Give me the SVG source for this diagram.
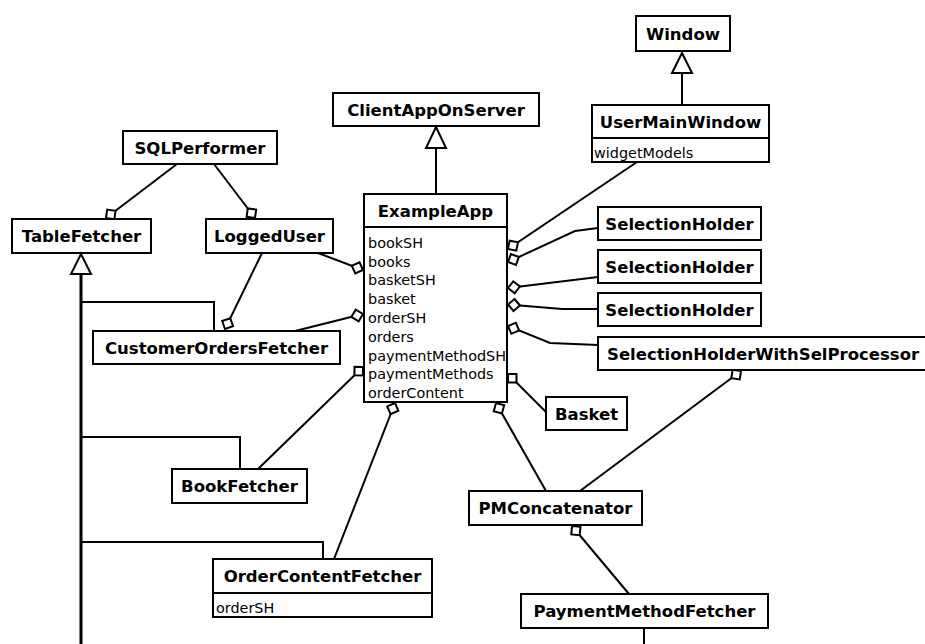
<svg xmlns="http://www.w3.org/2000/svg" width="925" height="644" viewBox="0 0 925 644">
  <style>
    .box { fill: #ffffff; stroke: #000000; stroke-width: 2; }
    .sep { stroke: #000000; stroke-width: 2; }
    .name { font-family: "DejaVu Sans", "Liberation Sans", sans-serif; font-weight: bold; font-size: 16.5px; fill: #000000; text-anchor: middle; }
    .attr { font-family: "DejaVu Sans", "Liberation Sans", sans-serif; font-size: 14.4px; fill: #000000; }
    .link { fill: none; stroke: #000000; stroke-width: 2; }
    .agg { marker-end: url(#agg); }
    .gen { fill: #ffffff; stroke: #000000; stroke-width: 2; }
    .trunk { fill: none; stroke: #000000; stroke-width: 3; }
  </style>
  <defs>
    <!-- aggregation diamond, tip placed at the end of the connector -->
    <marker id="agg" markerUnits="userSpaceOnUse" markerWidth="14" markerHeight="14" refX="13" refY="7" orient="auto" overflow="visible">
      <path d="M13,7 L7,1 L1,7 L7,13 Z" fill="#ffffff" stroke="#000000" stroke-width="2"/>
    </marker>
  </defs>
  <rect width="925" height="644" fill="#ffffff"/>

  <g id="connectors">
    <!-- generalization: Window <- UserMainWindow -->
    <line class="link" x1="682" y1="73" x2="682" y2="105"/>
    <polygon class="gen" points="682,53 692,73 672,73"/>
    <!-- generalization: ClientAppOnServer <- ExampleApp -->
    <line class="link" x1="436" y1="148" x2="436" y2="194"/>
    <polygon class="gen" points="436,127 446,148 426,148"/>
    <!-- generalization: TableFetcher <- fetchers -->
    <line class="trunk" x1="81" y1="274" x2="81" y2="644"/>
    <polyline class="link" points="81,302 214,302 214,331"/>
    <polyline class="link" points="81,437 240,437 240,469"/>
    <polyline class="link" points="81,542 323,542 323,559"/>
    <polygon class="gen" points="81,254 91,274 71,274"/>
    <line class="link" x1="644" y1="628" x2="644" y2="644"/>

    <!-- aggregations -->
    <line class="link agg" x1="177" y1="164" x2="106" y2="218"/>
    <line class="link agg" x1="214" y1="164" x2="255" y2="218"/>
    <line class="link agg" x1="318" y1="253" x2="363" y2="270"/>
    <line class="link agg" x1="262" y1="253" x2="225" y2="329"/>
    <line class="link agg" x1="295" y1="331" x2="363" y2="314"/>
    <line class="link agg" x1="258" y1="469" x2="363" y2="367"/>
    <line class="link agg" x1="334" y1="559" x2="395" y2="403"/>
    <line class="link agg" x1="637" y1="162" x2="508" y2="249"/>
    <polyline class="link agg" points="598,228 575,231 508,262"/>
    <line class="link agg" x1="598" y1="277" x2="508" y2="288"/>
    <polyline class="link agg" points="598,309 562,309 508,304.5"/>
    <polyline class="link agg" points="598,345 550,343 508,326"/>
    <line class="link agg" x1="546" y1="412" x2="508" y2="374"/>
    <line class="link agg" x1="546" y1="491" x2="496" y2="403"/>
    <line class="link agg" x1="580" y1="491" x2="741" y2="371"/>
    <line class="link agg" x1="629" y1="594" x2="572" y2="526"/>
  </g>

  <g id="Window">
    <rect class="box" x="636" y="16" width="94" height="35"/>
    <text class="name" x="683" y="39.5">Window</text>
  </g>
  <g id="UserMainWindow">
    <rect class="box" x="592" y="105" width="177" height="57"/>
    <line class="sep" x1="592" y1="138" x2="769" y2="138"/>
    <text class="name" x="680.5" y="128">UserMainWindow</text>
    <text class="attr" x="594" y="158">widgetModels</text>
  </g>
  <g id="ClientAppOnServer">
    <rect class="box" x="333" y="93" width="206" height="33"/>
    <text class="name" x="436" y="115.5">ClientAppOnServer</text>
  </g>
  <g id="ExampleApp">
    <rect class="box" x="364" y="194" width="143" height="208"/>
    <line class="sep" x1="364" y1="227" x2="507" y2="227"/>
    <text class="name" x="435.5" y="216.5">ExampleApp</text>
    <text class="attr" x="368" y="247.7">bookSH</text>
    <text class="attr" x="368" y="266.5">books</text>
    <text class="attr" x="368" y="285.3">basketSH</text>
    <text class="attr" x="368" y="304.1">basket</text>
    <text class="attr" x="368" y="322.9">orderSH</text>
    <text class="attr" x="368" y="341.7">orders</text>
    <text class="attr" x="368" y="360.5">paymentMethodSH</text>
    <text class="attr" x="368" y="379.3">paymentMethods</text>
    <text class="attr" x="368" y="398.1">orderContent</text>
  </g>
  <g id="SQLPerformer">
    <rect class="box" x="123" y="131" width="154" height="33"/>
    <text class="name" x="200" y="153.5">SQLPerformer</text>
  </g>
  <g id="TableFetcher">
    <rect class="box" x="12" y="219" width="139" height="34"/>
    <text class="name" x="81.5" y="242">TableFetcher</text>
  </g>
  <g id="LoggedUser">
    <rect class="box" x="206" y="219" width="127" height="34"/>
    <text class="name" x="269.5" y="242">LoggedUser</text>
  </g>
  <g id="CustomerOrdersFetcher">
    <rect class="box" x="93" y="331" width="247" height="33"/>
    <text class="name" x="216.5" y="353.5">CustomerOrdersFetcher</text>
  </g>
  <g id="SelectionHolder1">
    <rect class="box" x="598" y="207" width="163" height="33"/>
    <text class="name" x="679.5" y="229.5">SelectionHolder</text>
  </g>
  <g id="SelectionHolder2">
    <rect class="box" x="598" y="250" width="163" height="33"/>
    <text class="name" x="679.5" y="272.5">SelectionHolder</text>
  </g>
  <g id="SelectionHolder3">
    <rect class="box" x="598" y="293" width="163" height="33"/>
    <text class="name" x="679.5" y="315.5">SelectionHolder</text>
  </g>
  <g id="SelectionHolderWithSelProcessor">
    <rect class="box" x="598" y="337" width="337" height="33"/>
    <text class="name" x="607" y="359.5" style="text-anchor: start">SelectionHolderWithSelProcessor</text>
  </g>
  <g id="Basket">
    <rect class="box" x="546" y="397" width="81" height="33"/>
    <text class="name" x="586.5" y="419.5">Basket</text>
  </g>
  <g id="BookFetcher">
    <rect class="box" x="172" y="469" width="135" height="34"/>
    <text class="name" x="239.5" y="492">BookFetcher</text>
  </g>
  <g id="OrderContentFetcher">
    <rect class="box" x="213" y="559" width="219" height="58"/>
    <line class="sep" x1="213" y1="593" x2="432" y2="593"/>
    <text class="name" x="322.5" y="582">OrderContentFetcher</text>
    <text class="attr" x="216" y="613">orderSH</text>
  </g>
  <g id="PMConcatenator">
    <rect class="box" x="469" y="491" width="173" height="34"/>
    <text class="name" x="555.5" y="514">PMConcatenator</text>
  </g>
  <g id="PaymentMethodFetcher">
    <rect class="box" x="521" y="594" width="247" height="34"/>
    <text class="name" x="644.5" y="617">PaymentMethodFetcher</text>
  </g>
</svg>
